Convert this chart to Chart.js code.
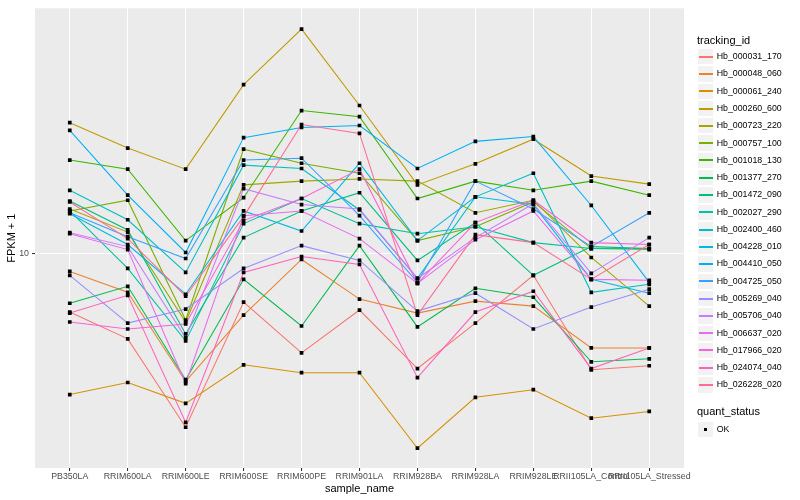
<!DOCTYPE html>
<html><head><meta charset="utf-8">
<script src="https://cdn.jsdelivr.net/npm/chart.js@4.4.1/dist/chart.umd.min.js"></script>
<style>
html,body{margin:0;padding:0;background:#fff;}
#wrap{position:relative;width:800px;height:500px;font-family:"Liberation Sans",Arial,Helvetica,sans-serif;}
canvas{position:absolute;left:0;top:0;}
.lg{position:absolute;white-space:nowrap;line-height:1;}
</style></head><body>
<div id="wrap"><canvas id="c" width="800" height="500"></canvas></div>
<script>
const categories = ["PB350LA","RRIM600LA","RRIM600LE","RRIM600SE","RRIM600PE","RRIM901LA","RRIM928BA","RRIM928LA","RRIM928LE","RRII105LA_Control","RRII105LA_Stressed"];
const seriesNames = ["Hb_000031_170","Hb_000048_060","Hb_000061_240","Hb_000260_600","Hb_000723_220","Hb_000757_100","Hb_001018_130","Hb_001377_270","Hb_001472_090","Hb_002027_290","Hb_002400_460","Hb_004228_010","Hb_004410_050","Hb_004725_050","Hb_005269_040","Hb_005706_040","Hb_006637_020","Hb_017966_020","Hb_024074_040","Hb_026228_020"];
const seriesColors = ["#F8766D","#EA8331","#D89000","#C09B00","#A3A500","#7CAE00","#39B600","#00BB4E","#00BF7D","#00C1A3","#00BFC4","#00BAE0","#00B0F6","#35A2FF","#9590FF","#C77CFF","#E76BF3","#FA62DB","#FF62BC","#FF6C91"];

const hb000031_170 = [6.36, 5.17, 2.61, 6.87, 4.64, 6.46, 4.11, 5.84, 8.45, 4.07, 4.20];
const hb000048_060 = [8.71, 7.41, 3.72, 6.21, 9.55, 7.03, 6.31, 6.92, 6.66, 4.82, 4.82];
const hb000061_240 = [3.36, 3.69, 3.14, 4.23, 3.98, 3.98, 2.22, 3.29, 3.49, 2.80, 2.95];
const hb000260_600 = [27.5, 22.6, 19.2, 36.9, 56.7, 31.4, 17.0, 20.0, 24.2, 18.2, 17.1];
const hb000723_220 = [14.1, 11.8, 5.89, 17.0, 17.5, 17.8, 17.5, 13.7, 15.1, 9.70, 6.66];
const hb000757_100 = [13.9, 15.1, 5.98, 22.4, 20.1, 18.6, 11.05, 12.3, 14.9, 10.39, 10.31];
const hb001018_130 = [20.6, 19.2, 11.05, 15.4, 30.2, 28.8, 15.3, 17.5, 16.3, 17.5, 15.7];
const hb001377_270 = [6.81, 7.76, 3.77, 8.19, 5.71, 10.63, 5.67, 7.64, 7.13, 4.33, 4.43];
const hb001472_090 = [15.0, 12.0, 5.37, 11.31, 13.9, 16.0, 9.48, 12.7, 8.45, 10.55, 10.39];
const hb002027_290 = [13.9, 8.91, 5.09, 12.6, 15.3, 12.6, 11.66, 12.3, 10.88, 10.39, 10.39];
const hb002400_460 = [16.3, 12.98, 8.64, 19.8, 19.3, 14.0, 8.25, 15.5, 18.6, 7.41, 7.88];
const hb004228_010 = [13.6, 10.72, 7.30, 13.9, 11.9, 20.1, 11.05, 15.5, 14.6, 8.19, 7.36];
const hb004410_050 = [25.9, 15.7, 10.08, 24.5, 26.5, 26.9, 19.3, 23.8, 24.7, 14.5, 8.00];
const hb004725_050 = [13.7, 11.39, 9.62, 20.6, 20.9, 13.4, 8.00, 17.5, 14.1, 10.55, 13.7];
const hb005269_040 = [8.45, 5.84, 6.51, 8.91, 10.63, 9.48, 6.41, 7.36, 5.58, 6.61, 7.59];
const hb005706_040 = [11.75, 10.55, 5.21, 16.5, 14.6, 14.1, 8.25, 11.31, 14.7, 8.58, 11.31];
const hb006637_020 = [11.66, 10.31, 3.66, 13.4, 13.9, 11.22, 7.94, 11.13, 13.9, 8.19, 8.13];
const hb017966_020 = [5.89, 5.58, 5.80, 12.9, 15.3, 19.2, 7.94, 12.7, 15.1, 10.88, 10.72];
const hb024074_040 = [6.31, 7.24, 2.71, 8.64, 9.77, 9.19, 3.83, 6.36, 7.47, 4.11, 4.82];
const hb026228_020 = [14.9, 11.22, 7.19, 13.3, 27.1, 25.3, 6.21, 11.57, 10.88, 8.19, 10.72];

const seriesValues = [hb000031_170,hb000048_060,hb000061_240,hb000260_600,hb000723_220,hb000757_100,hb001018_130,hb001377_270,hb001472_090,hb002027_290,hb002400_460,hb004228_010,hb004410_050,hb004725_050,hb005269_040,hb005706_040,hb006637_020,hb017966_020,hb024074_040,hb026228_020];
const yTickValues = [10];
const yTickLabels = ["10"];
const yRange = [1.905, 66.59];
const xTitle = "sample_name";
const yTitle = "FPKM + 1";
const legendTitle = "tracking_id";
const statusTitle = "quant_status";
const statusLabels = ["OK"];

const FONT = '"Liberation Sans", Arial, Helvetica, sans-serif';

const datasets = seriesValues.map((vals, i) => ({
  type: 'line',
  label: seriesNames[i],
  data: vals.map((v, j) => ({x: j, y: v})),
  borderColor: seriesColors[i],
  borderWidth: 1.07,
  pointRadius: 0,
  tension: 0,
  fill: false,
  order: -i
}));
const allPoints = [];
seriesValues.forEach(vals => vals.forEach((v, j) => allPoints.push({x: j, y: v})));
datasets.push({
  type: 'scatter', label: 'OK', data: allPoints, showLine: false,
  pointStyle: 'rect', pointRadius: 2.6, pointBackgroundColor: '#000000',
  pointBorderWidth: 0, pointBorderColor: '#000000', order: -100
});

const panelBg = {
  id: 'panelBg',
  beforeDraw(chart) {
    const {ctx, chartArea: a} = chart;
    ctx.save();
    ctx.fillStyle = '#EBEBEB';
    ctx.fillRect(a.left, a.top, a.right - a.left, a.bottom - a.top);
    ctx.restore();
  }
};

new Chart(document.getElementById('c'), {
  data: {datasets},
  options: {
    responsive: false, animation: false, devicePixelRatio: 1,
    layout: {padding: {top: 5, right: 116, bottom: 0, left: 0}, autoPadding: false},
    plugins: {legend: {display: false}, tooltip: {enabled: false}},
    scales: {
      x: {
        type: 'linear', min: -0.6, max: 10.6,
        afterBuildTicks: s => { s.ticks = categories.map((_, i) => ({value: i})); },
        afterFit: s => { s.height = 32; },
        ticks: {callback: v => categories[v], font: {family: FONT, size: 8.8}, color: '#4D4D4D',
                maxRotation: 0, minRotation: 0, autoSkip: false, padding: 0.5},
        grid: {color: '#FFFFFF', lineWidth: 1.07, tickColor: '#333333', tickLength: 3, drawTicks: true},
        border: {display: false},
        title: {display: true, text: xTitle, font: {family: FONT, size: 11}, color: '#000000', padding: {top: 0, bottom: 4.4}}
      },
      y: {
        type: 'logarithmic', min: yRange[0], max: yRange[1],
        afterBuildTicks: s => { s.ticks = yTickValues.map(v => ({value: v})); },
        afterFit: s => { s.width = 35; },
        ticks: {callback: (v) => { const k = yTickValues.indexOf(v); return k >= 0 ? yTickLabels[k] : ''; },
                font: {family: FONT, size: 8.8}, color: '#4D4D4D', padding: 3, autoSkip: false},
        grid: {color: '#FFFFFF', lineWidth: 1.07, tickColor: '#333333', tickLength: 3, drawTicks: true},
        border: {display: false},
        title: {display: true, text: yTitle, font: {family: FONT, size: 11}, color: '#000000', padding: {top: 5.4, bottom: 0}}
      }
    }
  },
  plugins: [panelBg]
});

// ggplot-style legend
const wrap = document.getElementById('wrap');
function el(css, text) {
  const d = document.createElement('div');
  d.className = 'lg';
  Object.assign(d.style, css);
  if (text !== undefined) d.textContent = text;
  wrap.appendChild(d);
  return d;
}
const keyX = 697, keyW = 17.28, keyStep = 17.28, firstCenter = 56.7;
el({left: keyX + 'px', top: (40.7 - 6) + 'px', fontSize: '11px', color: '#000'}, legendTitle);
seriesNames.forEach((name, i) => {
  const cy = firstCenter + i * keyStep;
  el({left: keyX + 'px', top: (cy - keyW / 2) + 'px', width: keyW + 'px', height: keyW + 'px',
      background: '#F2F2F2', boxSizing: 'border-box', border: '0.6px solid #FFFFFF'});
  el({left: (keyX + 1.5) + 'px', top: (Math.round(cy) - 1) + 'px', width: (keyW - 3) + 'px', height: '2px', background: seriesColors[i]});
  el({left: '716.7px', top: (cy - 4.6) + 'px', fontSize: '8.8px', color: '#000'}, name);
});
el({left: keyX + 'px', top: (412.3 - 6) + 'px', fontSize: '11px', color: '#000'}, statusTitle);
statusLabels.forEach((lab, i) => {
  const cy = 429.3 + i * keyStep;
  el({left: keyX + 'px', top: (cy - keyW / 2) + 'px', width: keyW + 'px', height: keyW + 'px',
      background: '#F2F2F2', boxSizing: 'border-box', border: '0.6px solid #FFFFFF'});
  el({left: (keyX + keyW / 2 - 1.8) + 'px', top: (cy - 1.8) + 'px', width: '3.6px', height: '3.6px', background: '#000'});
  el({left: '716.7px', top: (cy - 4.6) + 'px', fontSize: '8.8px', color: '#000'}, lab);
});
</script>
</body></html>
